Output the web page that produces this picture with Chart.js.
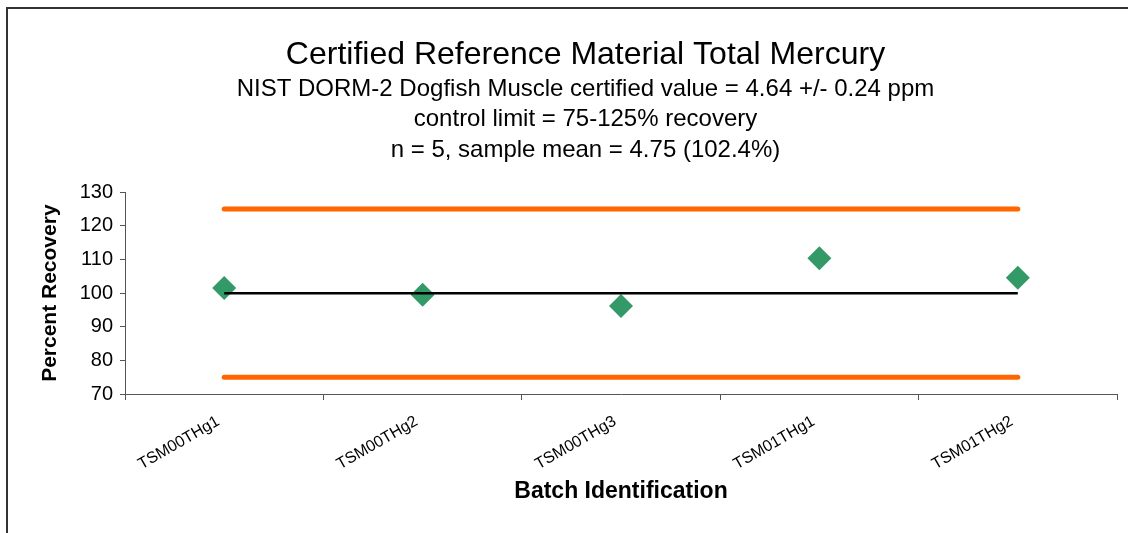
<!DOCTYPE html>
<html>
<head>
<meta charset="utf-8">
<script src="https://cdn.jsdelivr.net/npm/chart.js@4/dist/chart.umd.min.js"></script>
<style>
  html, body { margin: 0; padding: 0; background: #fff; overflow: hidden; }
  body { width: 1128px; height: 533px; position: relative; }
  #frame { position: absolute; left: 6px; top: 7px; width: 1200px; height: 560px; border: 2px solid #333; }
  #wrap { position: absolute; left: 0; top: 0; width: 1171px; height: 533px; }
</style>
</head>
<body>
<div id="frame"></div>
<div id="wrap"><canvas id="qc-chart" width="1171" height="533"></canvas></div>
<script>
const batches = ["TSM00THg1", "TSM00THg2", "TSM00THg3", "TSM01THg1", "TSM01THg2"];
const recovery = [101.5, 99.5, 96.2, 110.4, 104.6];
const upperLimit = [125, 125, 125, 125, 125];
const lowerLimit = [75, 75, 75, 75, 75];
const target = [100, 100, 100, 100, 100];
const yTicks = [70, 80, 90, 100, 110, 120, 130];

const subtitleLines = [
  "NIST DORM-2 Dogfish Muscle certified value = 4.64 +/- 0.24 ppm",
  "control limit = 75-125% recovery",
  "n = 5, sample mean = 4.75 (102.4%)",
];

const FONT = '"Liberation Sans", Arial, sans-serif';
Chart.defaults.font.family = FONT;
Chart.defaults.color = "#000";

const ctx = document.getElementById("qc-chart");

new Chart(ctx, {
  type: "line",
  data: {
    labels: batches,
    datasets: [
      {
        label: "upper",
        data: upperLimit,
        borderColor: "#FF6600",
        borderWidth: 5,
        borderCapStyle: "round",
        pointRadius: 0,
      },
      {
        label: "lower",
        data: lowerLimit,
        borderColor: "#FF6600",
        borderWidth: 5,
        borderCapStyle: "round",
        pointRadius: 0,
      },
      {
        label: "target",
        data: target,
        borderColor: "#000",
        borderWidth: 2.5,
        pointRadius: 0,
      },
      {
        label: "recovery",
        data: recovery,
        showLine: false,
        pointStyle: "rectRot",
        pointRadius: 12,
        backgroundColor: "#339966",
        borderColor: "#339966",
        borderWidth: 0,
      },
    ],
  },
  options: {
    responsive: false,
    animation: false,
    layout: { padding: 0 },
    scales: {
      x: {
        offset: true,
        grid: { offset: true, drawOnChartArea: false, tickLength: 6, color: "#555" },
        border: { color: "#555", width: 1 },
        ticks: { font: { size: 16 }, minRotation: 30, maxRotation: 30, padding: 12, labelOffset: -6 },
        title: {
          display: true,
          text: "Batch Identification",
          font: { size: 23, weight: "bold" },
          padding: { top: 0, bottom: 28 },
        },
        afterFit(scale) {
          scale.height = 139;
        },
      },
      y: {
        min: 70,
        max: 130,
        afterBuildTicks(scale) {
          scale.ticks = yTicks.map((v) => ({ value: v }));
        },
        grid: { drawOnChartArea: false, tickLength: 5, color: "#555" },
        border: { color: "#555", width: 1 },
        ticks: { font: { size: 20 }, padding: 7 },
        title: {
          display: true,
          text: "Percent Recovery",
          font: { size: 21, weight: "bold" },
          padding: { top: 38, bottom: 0 },
        },
        afterFit(scale) {
          scale.width = 125;
        },
      },
      // empty strip on the right so the titles centre like the original
      spacer: {
        position: "right",
        display: true,
        grid: { display: false, drawTicks: false },
        border: { display: false },
        ticks: { display: false },
        afterFit(scale) {
          scale.width = 54;
        },
      },
    },
    plugins: {
      legend: { display: false },
      tooltip: { enabled: false },
      title: {
        display: true,
        text: "Certified Reference Material Total Mercury",
        font: { size: 32, weight: "normal", lineHeight: 1.2 },
        padding: { top: 36, bottom: 0 },
      },
      subtitle: {
        display: true,
        text: subtitleLines,
        font: { size: 24, lineHeight: 1.2625 },
        padding: { top: 0, bottom: 27 },
      },
    },
  },
});
</script>
</body>
</html>
